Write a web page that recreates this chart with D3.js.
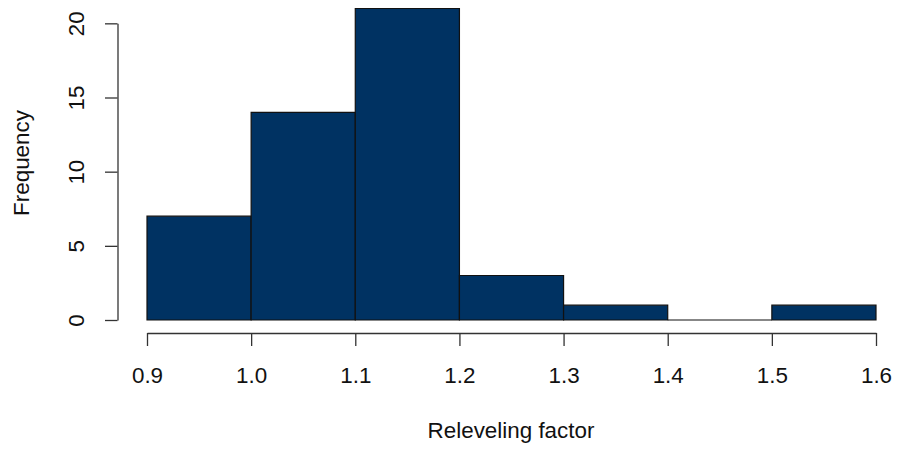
<!DOCTYPE html>
<html>
<head>
<meta charset="utf-8">
<script src="https://cdn.jsdelivr.net/npm/d3@7"></script>
<style>
  html, body { margin: 0; padding: 0; background: #fff; }
  svg { display: block; font-family: "Liberation Sans", Arial, sans-serif; }
</style>
</head>
<body>
<svg id="chart" width="897" height="449"></svg>
<script>
const binStarts = [0.9, 1.0, 1.1, 1.2, 1.3, 1.4, 1.5];
const binEnds   = [1.0, 1.1, 1.2, 1.3, 1.4, 1.5, 1.6];
const counts    = [7, 14, 21, 3, 1, 0, 1];
const xTicks    = [0.9, 1.0, 1.1, 1.2, 1.3, 1.4, 1.5, 1.6];
const yTicks    = [0, 5, 10, 15, 20];
const xTitle = "Releveling factor";
const yTitle = "Frequency";

const FS = 22.4;
const svg = d3.select("#chart");
const x = d3.scaleLinear().domain([0.9, 1.6]).range([147, 876]);
const y = d3.scaleLinear().domain([0, 21]).range([320, 8.5]);

const bins = binStarts.map((s, i) => ({ x0: s, x1: binEnds[i], n: counts[i] }));

svg.append("g").selectAll("path").data(bins).join("path")
  .attr("d", d => {
    const p = d3.path();
    p.moveTo(x(d.x0), y(0));
    p.lineTo(x(d.x1), y(0));
    p.lineTo(x(d.x1), y(d.n));
    p.lineTo(x(d.x0), y(d.n));
    p.closePath();
    return p.toString();
  })
  .attr("fill", "#003262")
  .attr("stroke", "#111")
  .attr("stroke-width", 1.2);

// X axis
const xAxis = d3.axisBottom(x).tickValues(xTicks).tickFormat(d3.format(".1f"))
  .tickSize(13).tickSizeOuter(0);
const gx = svg.append("g").attr("transform", "translate(0,333)").call(xAxis);
gx.select(".domain").attr("stroke", "#333").attr("stroke-width", 1.3);
gx.selectAll(".tick line").attr("stroke", "#333").attr("stroke-width", 1.3);
gx.selectAll(".tick text").attr("y", 50).attr("dy", 0)
  .attr("font-size", FS).attr("fill", "#111")
  .attr("font-family", "Liberation Sans, Arial, sans-serif");

// Y axis
const yAxisScale = y.copy().domain([0, 20]).range([y(0), y(20)]);
const yAxis = d3.axisLeft(yAxisScale).tickValues(yTicks).tickSize(12.5).tickSizeOuter(0);
const gy = svg.append("g").attr("transform", "translate(117.5,0)").call(yAxis);
gy.select(".domain").attr("stroke", "#333").attr("stroke-width", 1.3);
gy.selectAll(".tick line").attr("stroke", "#333").attr("stroke-width", 1.3);
gy.selectAll(".tick text")
  .attr("transform", "rotate(-90)")
  .attr("x", 0).attr("y", -33.5).attr("dy", 0)
  .attr("text-anchor", "middle")
  .attr("font-size", FS).attr("fill", "#111")
  .attr("font-family", "Liberation Sans, Arial, sans-serif");

// Titles
svg.append("text")
  .attr("x", 511).attr("y", 438)
  .attr("text-anchor", "middle")
  .attr("font-size", FS).attr("fill", "#111")
  .text(xTitle);

svg.append("text")
  .attr("transform", "translate(29,163) rotate(-90)")
  .attr("text-anchor", "middle")
  .attr("font-size", FS).attr("fill", "#111")
  .text(yTitle);
</script>
</body>
</html>
